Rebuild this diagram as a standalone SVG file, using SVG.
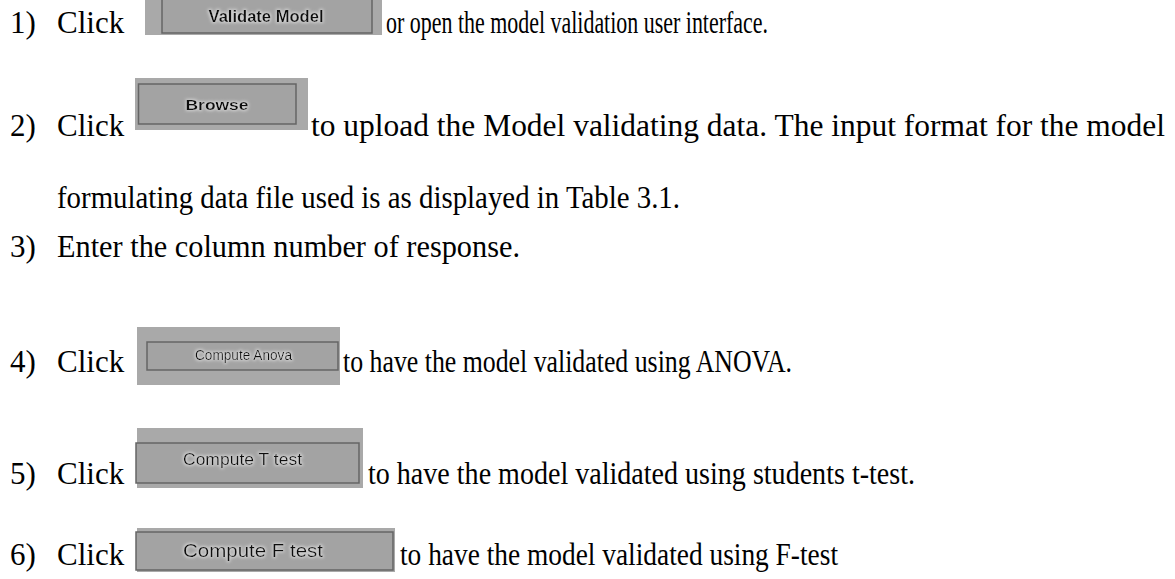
<svg xmlns="http://www.w3.org/2000/svg" width="1175" height="579" viewBox="0 0 1175 579">
  <defs>
    <style>
      .t { font-family: "Liberation Serif", "Times New Roman", serif; font-size: 31px; fill: #000; }
      .bo { fill: #a9a9a9; }
      .bi { fill: #a3a3a3; stroke: #656565; stroke-width: 1.5; }
      .bl { font-family: "Liberation Sans", Arial, sans-serif; fill: #101010; text-anchor: middle; filter: url(#glow); }
    </style>
    <filter id="glow" x="-20%" y="-50%" width="140%" height="200%">
      <feMorphology in="SourceAlpha" operator="dilate" radius="1" result="d"/>
      <feGaussianBlur in="d" stdDeviation="1.5" result="b"/>
      <feFlood flood-color="#d8d8d8" flood-opacity="0.85"/>
      <feComposite in2="b" operator="in" result="g"/>
      <feMerge><feMergeNode in="g"/><feMergeNode in="SourceGraphic"/></feMerge>
    </filter>
  </defs>

  <g id="step1">
    <text class="t" x="10" y="33">1)</text>
    <text class="t" x="57" y="33">Click</text>
    <g id="btn-validate">
      <rect class="bo" x="145" y="0" width="237" height="35"/>
      <rect class="bi" x="162" y="-2" width="210" height="35"/>
      <text class="bl" x="266" y="22" font-size="16" font-weight="bold" textLength="115" lengthAdjust="spacingAndGlyphs">Validate Model</text>
    </g>
    <text class="t" x="386" y="33" textLength="382" lengthAdjust="spacingAndGlyphs">or open the model validation user interface.</text>
  </g>

  <g id="step2">
    <text class="t" x="10" y="136">2)</text>
    <text class="t" x="57" y="136">Click</text>
    <g id="btn-browse">
      <rect class="bo" x="135" y="78" width="173" height="52"/>
      <rect class="bi" x="138.5" y="84" width="157.5" height="40"/>
      <text class="bl" x="217" y="110" font-size="15" font-weight="bold" textLength="63" lengthAdjust="spacingAndGlyphs">Browse</text>
    </g>
    <text class="t" x="311" y="136" textLength="854" lengthAdjust="spacingAndGlyphs">to upload the Model validating data. The input format for the model</text>
    <text class="t" x="57" y="208" textLength="623" lengthAdjust="spacingAndGlyphs">formulating data file used is as displayed in Table 3.1.</text>
  </g>

  <g id="step3">
    <text class="t" x="10" y="257">3)</text>
    <text class="t" x="57" y="257" textLength="463" lengthAdjust="spacingAndGlyphs">Enter the column number of response.</text>
  </g>

  <g id="step4">
    <text class="t" x="10" y="372">4)</text>
    <text class="t" x="57" y="372">Click</text>
    <g id="btn-anova">
      <rect class="bo" x="137" y="327" width="203" height="58"/>
      <rect class="bi" x="147" y="342" width="191" height="28"/>
      <text class="bl" x="243.5" y="360" font-size="14" textLength="97" lengthAdjust="spacingAndGlyphs">Compute Anova</text>
    </g>
    <text class="t" x="343" y="372" textLength="449" lengthAdjust="spacingAndGlyphs">to have the model validated using ANOVA.</text>
  </g>

  <g id="step5">
    <text class="t" x="10" y="484">5)</text>
    <text class="t" x="57" y="484">Click</text>
    <g id="btn-ttest">
      <rect class="bo" x="137" y="428" width="226" height="60"/>
      <rect class="bi" x="136" y="443" width="223" height="40"/>
      <text class="bl" x="242.5" y="465" font-size="17" textLength="119" lengthAdjust="spacingAndGlyphs">Compute T test</text>
    </g>
    <text class="t" x="368" y="484" textLength="547" lengthAdjust="spacingAndGlyphs">to have the model validated using students t-test.</text>
  </g>

  <g id="step6">
    <text class="t" x="10" y="565">6)</text>
    <text class="t" x="57" y="565">Click</text>
    <g id="btn-ftest">
      <rect class="bo" x="137" y="528" width="258" height="44"/>
      <rect class="bi" x="136" y="532" width="257" height="38"/>
      <text class="bl" x="253" y="557" font-size="19" textLength="140" lengthAdjust="spacingAndGlyphs">Compute F test</text>
    </g>
    <text class="t" x="400" y="565" textLength="438" lengthAdjust="spacingAndGlyphs">to have the model validated using F-test</text>
  </g>
</svg>
